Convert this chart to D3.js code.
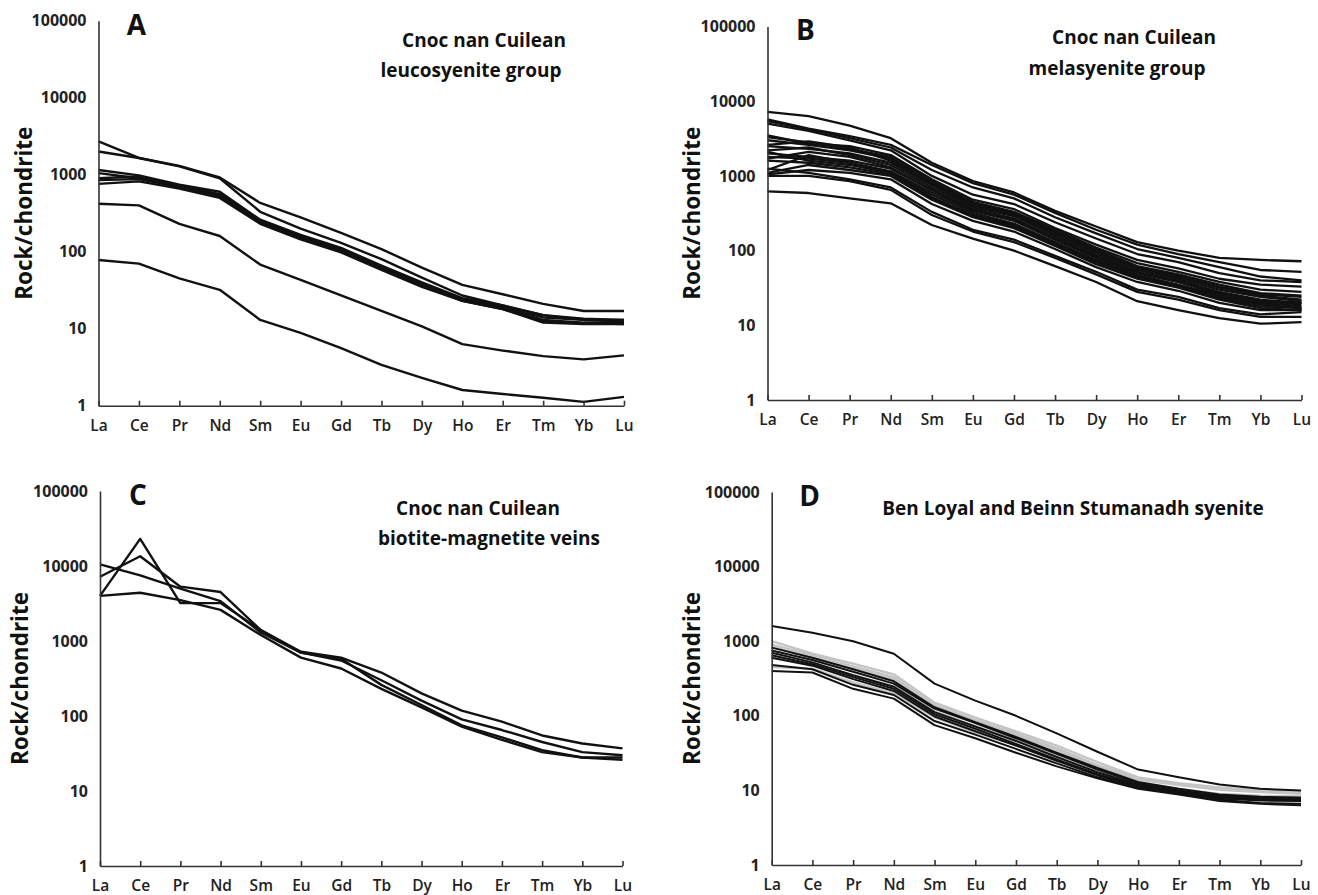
<!DOCTYPE html>
<html>
<head>
<meta charset="utf-8">
<script src="https://cdn.jsdelivr.net/npm/d3@7"></script>
<style>
  body { margin: 0; background: #fff; }
  text { font-family: "Open Sans", "Liberation Sans", sans-serif; }
</style>
</head>
<body>
<div id="chart"></div>
<script>
"use strict";

// REE elements along the x axis
const elements = ["La", "Ce", "Pr", "Nd", "Sm", "Eu", "Gd", "Tb", "Dy", "Ho", "Er", "Tm", "Yb", "Lu"];
const yTicks = [1, 10, 100, 1000, 10000, 100000];

// A - leucosyenite group
const seriesA = [
    [2700, 1650, 1300, 920, 430, 280, 175, 108, 62, 37, 28, 21, 17, 17],
    [2000, 1650, 1280, 900, 330, 200, 130, 80, 46, 27, 20, 15, 13, 13],
    [1150, 980, 740, 600, 260, 165, 112, 66, 40, 25, 20, 15, 13.5, 13],
    [900, 950, 720, 560, 250, 158, 106, 63, 38, 24, 19, 14, 13, 12.5],
    [850, 880, 690, 540, 240, 152, 102, 61, 37, 23.5, 18.5, 13, 12, 12],
    [760, 820, 660, 500, 230, 145, 98, 58, 35, 23, 18, 12.5, 11.8, 11.5],
    [1050, 900, 700, 520, 245, 150, 100, 60, 36.5, 23, 18, 12, 11.5, 11.5],
    [420, 400, 230, 160, 68, 43, 27, 17, 10.7, 6.3, 5.2, 4.4, 4.0, 4.5],
    [78, 70, 45, 32, 13, 8.8, 5.6, 3.4, 2.3, 1.6, 1.42, 1.27, 1.12, 1.3]
];

// B - melasyenite group
const seriesB = [
    [7200, 6300, 4700, 3200, 1500, 850, 600, 340, 210, 130, 100, 80, 75, 72],
    [5700, 4300, 3400, 2600, 1400, 800, 560, 320, 190, 120, 90, 70, 55, 52],
    [5400, 4200, 3200, 2400, 1200, 700, 500, 280, 170, 105, 80, 60, 45, 40],
    [5000, 4000, 3000, 2200, 1000, 560, 420, 240, 145, 90, 70, 50, 40, 38],
    [3500, 2700, 2500, 1900, 900, 480, 360, 200, 120, 75, 58, 42, 35, 33],
    [3300, 2800, 2300, 1800, 850, 450, 330, 190, 110, 68, 52, 38, 30, 28],
    [3000, 2600, 2200, 1700, 800, 430, 320, 180, 105, 62, 48, 35, 27, 25],
    [2600, 2900, 2400, 1600, 780, 420, 310, 175, 100, 60, 46, 33, 26, 24],
    [2500, 2300, 2000, 1500, 750, 400, 300, 170, 95, 58, 44, 32, 25, 22],
    [2200, 2400, 1900, 1400, 700, 380, 290, 160, 90, 55, 42, 30, 24, 21],
    [2000, 1800, 1600, 1250, 650, 360, 270, 150, 85, 52, 40, 28, 22, 20],
    [1700, 2100, 1800, 1300, 650, 350, 260, 145, 82, 50, 38, 27, 21, 20],
    [1800, 1700, 1500, 1150, 600, 340, 250, 140, 80, 50, 38, 26, 21, 19],
    [2100, 1600, 1400, 1100, 560, 320, 230, 130, 75, 47, 35, 25, 20, 18],
    [1600, 1500, 1300, 1050, 520, 300, 220, 125, 72, 45, 34, 24, 19, 17],
    [1200, 1900, 1500, 1100, 500, 290, 210, 120, 70, 44, 33, 23, 18, 17],
    [1100, 1400, 1200, 1000, 480, 280, 200, 115, 66, 42, 32, 22, 17, 16],
    [1050, 1200, 1100, 900, 420, 250, 180, 105, 60, 38, 29, 20, 16, 16],
    [1250, 1100, 900, 700, 330, 190, 140, 85, 52, 30, 24, 17, 14, 15],
    [1000, 1000, 850, 650, 300, 180, 130, 80, 48, 28, 22, 16, 13, 13],
    [620, 590, 500, 430, 220, 145, 100, 62, 38, 21, 16, 12.5, 10.5, 11]
];

// C - biotite-magnetite veins
const seriesC = [
    [4000, 23000, 3200, 3200, 1400, 700, 580, 260, 140, 75, 52, 35, 28, 28],
    [7200, 13500, 5300, 4500, 1400, 720, 600, 380, 200, 118, 84, 55, 43, 37],
    [10500, 7500, 5000, 3400, 1300, 700, 550, 300, 160, 90, 65, 45, 33, 30],
    [4000, 4400, 3500, 2600, 1200, 600, 430, 230, 130, 72, 48, 33, 28, 26]
];

// D - Ben Loyal and Beinn Stumanadh syenite (black and grey samples)
const seriesDBlack = [
    [1600, 1300, 1000, 680, 270, 160, 100, 58, 33, 19, 15, 12, 10.5, 10],
    [820, 600, 420, 290, 130, 82, 52, 32, 20, 13, 10.5, 8.8, 8.2, 8.0],
    [750, 560, 390, 270, 125, 80, 50, 31, 19, 12.5, 10, 8.5, 8, 8],
    [700, 520, 350, 245, 112, 72, 46, 28, 17.5, 12, 9.8, 8.2, 7.8, 7.6],
    [650, 490, 330, 230, 105, 67, 42, 26, 16.5, 11.5, 9.5, 8, 7.6, 7.4],
    [600, 470, 310, 215, 98, 62, 40, 25, 16, 11.2, 9.3, 7.8, 7.3, 7.2],
    [480, 420, 260, 190, 85, 56, 36, 23, 15, 10.8, 9, 7.5, 6.8, 6.6],
    [400, 380, 230, 170, 75, 50, 32, 21, 14.5, 10.5, 8.8, 7.2, 6.6, 6.3]
];
const seriesDGrey = [
    [1000, 680, 500, 360, 150, 95, 62, 40, 24, 15, 12.5, 11, 10, 9.5],
    [900, 650, 460, 330, 140, 88, 58, 37, 22, 14.5, 12, 10.5, 9.8, 9.3],
    [850, 600, 430, 310, 130, 85, 55, 35, 21, 14, 11.8, 10.2, 9.5, 9],
    [600, 500, 350, 250, 115, 72, 48, 30, 18, 12.5, 10.5, 9, 8.5, 8.3],
    [450, 430, 280, 200, 95, 60, 40, 25, 16, 11.5, 9.8, 8.5, 7.8, 7.5]
];

const svg = d3.select("#chart").append("svg")
    .attr("width", 1318)
    .attr("height", 895);

const panels = [
    { letter: "A", left: 98.5, right: 624, top: 20.7, bottom: 405.7, yTitleX: 24,
      titles: [["Cnoc nan Cuilean", 484, 40], ["leucosyenite group", 471, 70]],
      black: seriesA, grey: [], width: 2.4 },
    { letter: "B", left: 767.5, right: 1301.5, top: 26.5, bottom: 400, yTitleX: 692,
      titles: [["Cnoc nan Cuilean", 1134, 37], ["melasyenite group", 1117, 68]],
      black: seriesB, grey: [], width: 2.3 },
    { letter: "C", left: 100, right: 622.5, top: 491, bottom: 866, yTitleX: 20,
      titles: [["Cnoc nan Cuilean", 478, 508], ["biotite-magnetite veins", 489, 538]],
      black: seriesC, grey: [], width: 2.4 },
    { letter: "D", left: 771.7, right: 1301, top: 492, bottom: 865, yTitleX: 692,
      titles: [["Ben Loyal and Beinn Stumanadh syenite", 1073, 508]],
      black: seriesDBlack, grey: seriesDGrey, width: 2 }
];

function drawPanel(p) {
    let x = d3.scalePoint().domain(elements).range([p.left, p.right]);
    let y = d3.scaleLog().domain([1, 100000]).range([p.bottom, p.top]);
    let g = svg.append("g");

    let line = d3.line()
        .x((d, i) => x(elements[i]))
        .y(d => y(d));

    // grey samples go underneath
    g.append("g").selectAll("path")
        .data(p.grey)
        .enter().append("path")
        .attr("d", line)
        .attr("fill", "none")
        .attr("stroke", "#c4c4c4")
        .attr("stroke-width", p.width + 0.3)
        .attr("stroke-linejoin", "round");

    g.append("g").selectAll("path")
        .data(p.black)
        .enter().append("path")
        .attr("d", line)
        .attr("fill", "none")
        .attr("stroke", "#111")
        .attr("stroke-width", p.width)
        .attr("stroke-linejoin", "round");

    // x axis, ticks pointing up
    let xAxis = g.append("g")
        .attr("transform", "translate(0," + p.bottom + ")")
        .call(d3.axisBottom(x).tickSizeInner(-5).tickSizeOuter(0).tickPadding(14));
    xAxis.select(".domain").attr("stroke", "#333").attr("stroke-width", 1.6);
    xAxis.selectAll(".tick line").attr("stroke", "#333").attr("stroke-width", 1.6);
    xAxis.selectAll("text")
        .attr("font-family", "Open Sans")
        .attr("font-size", 15.5)
        .attr("font-weight", 600)
        .attr("fill", "#222");

    // y axis, labels only
    let yAxis = g.append("g")
        .attr("transform", "translate(" + p.left + ",0)")
        .call(d3.axisLeft(y).tickValues(yTicks).tickFormat(d3.format("d")).tickSize(0).tickPadding(12));
    yAxis.select(".domain").attr("stroke", "#333").attr("stroke-width", 1.6);
    yAxis.selectAll("text")
        .attr("font-family", "Open Sans")
        .attr("font-size", 16)
        .attr("font-weight", 700)
        .attr("fill", "#222");

    g.append("text")
        .attr("transform", "translate(" + p.yTitleX + "," + ((p.top + p.bottom) / 2) + ") rotate(-90)")
        .attr("text-anchor", "middle")
        .attr("dy", "0.35em")
        .attr("font-family", "Liberation Sans")
        .attr("font-size", 22.5)
        .attr("font-weight", "bold")
        .attr("fill", "#111")
        .text("Rock/chondrite");

    g.append("text")
        .attr("x", p.left + 38)
        .attr("y", p.top + 4)
        .attr("dy", "0.35em")
        .attr("text-anchor", "middle")
        .attr("font-family", "Liberation Sans")
        .attr("font-size", 28)
        .attr("font-weight", "bold")
        .attr("fill", "#111")
        .text(p.letter);

    for (let t of p.titles) {
        g.append("text")
            .attr("x", t[1])
            .attr("y", t[2])
            .attr("dy", "0.35em")
            .attr("text-anchor", "middle")
            .attr("font-size", 19)
            .attr("font-weight", 700)
            .attr("fill", "#111")
            .text(t[0]);
    }
}

panels.forEach(drawPanel);
</script>
</body>
</html>
